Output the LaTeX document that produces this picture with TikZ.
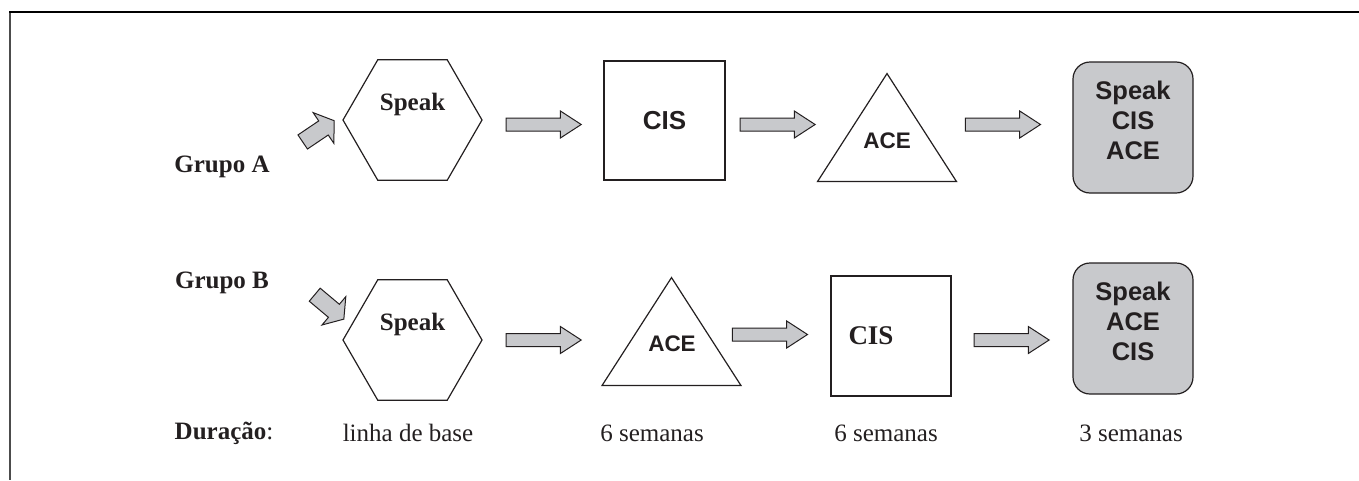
\documentclass[tikz,border=0pt]{standalone}
\usepackage{fontspec}
\setmainfont{Liberation Serif}
\setsansfont{Liberation Sans}
\usetikzlibrary{shapes.geometric,shapes.arrows,positioning}
\definecolor{boxgray}{RGB}{200,201,204}
\definecolor{inkgray}{RGB}{35,31,32}

\begin{document}
\begin{tikzpicture}[x=1pt,y=-1pt,
	every node/.style={text=inkgray,inner sep=0pt},
	hexa/.style={regular polygon,regular polygon sides=6,minimum size=139pt,draw=inkgray,line width=1.2pt},
	sqbox/.style={rectangle,draw=inkgray,line width=1.2pt,minimum width=121pt,minimum height=119pt},
	tri/.style={isosceles triangle,isosceles triangle stretches,shape border rotate=90,draw=inkgray,line width=1.2pt,minimum width=139pt,minimum height=108pt},
	endbox/.style={rectangle,rounded corners=17pt,draw=inkgray,fill=boxgray,line width=1.2pt,minimum width=120pt,minimum height=131pt},
	blockarrow/.style={single arrow,draw=inkgray,fill=boxgray,line width=1pt,minimum height=75pt,inner sep=6pt,single arrow head extend=7pt,single arrow tip angle=66},
	smallarrow/.style={single arrow,draw=inkgray,fill=boxgray,line width=1pt,minimum height=38pt,inner sep=8pt,single arrow head extend=10pt,single arrow tip angle=110},
	serifbold/.style={font=\fontsize{25}{30}\selectfont\bfseries},
	serifplain/.style={font=\fontsize{25}{30}\selectfont},
	sansbold/.style={font=\sffamily\bfseries\fontsize{26}{30}\selectfont},
	sanslist/.style={font=\sffamily\bfseries\fontsize{25.5}{30}\selectfont,align=center}]
	\newcommand{\rowA}{120}
	\newcommand{\rowB}{340}
	\newcommand{\rowDur}{433}
	
	\useasboundingbox (0,0) rectangle (1359,480);
	\draw[line width=2.5pt,black!70] (10,12) -- (10,480);		% left frame
	\draw[line width=1.8pt,black] (9,12) -- (1359,12);		% top frame
	
	% Grupo A
	\node[serifbold] (grupoA) at (222,167) {Grupo A};
	\node[smallarrow,rotate=34] (smA) at (316,133) {};
	\node[hexa,label={[serifbold,yshift=16pt]center:Speak}] (speakA) at (412.5,\rowA) {};
	\node[sqbox,sansbold] (cisA) at (664.5,120.5) {CIS};
	\node[tri,anchor=apex] (aceA) at (887,72) {};
	\node[sansbold,font=\sffamily\bfseries\fontsize{22.5}{27}\selectfont] (aceAtxt) at (887,141) {ACE};
	\node[endbox,label={[sanslist,yshift=7pt]center:Speak\\CIS\\ACE}] (allA) at (1133,127.5) {};
	\node[blockarrow,right=23pt of speakA,yshift=-4.5pt] (arrA1) {};
	\node[blockarrow,right=14pt of cisA,yshift=-4pt] (arrA2) {};
	\node[blockarrow,left=31pt of allA,yshift=3pt] (arrA3) {};
	
	% Grupo B
	\node[serifbold] (grupoB) at (222,283) {Grupo B};
	\node[smallarrow,rotate=-40] (smB) at (327,305) {};
	\node[hexa,label={[serifbold,yshift=16pt]center:Speak}] (speakB) at (412.5,\rowB) {};
	\node[tri,anchor=apex] (aceB) at (671.5,276) {};
	\node[sansbold,font=\sffamily\bfseries\fontsize{22.5}{27}\selectfont] (aceBtxt) at (672,344) {ACE};
	\node[sqbox,minimum width=120pt,minimum height=120pt,label={[serifbold,font=\fontsize{27}{30}\selectfont\bfseries,xshift=-20pt]center:CIS}] (cisB) at (891,336) {};
	\node[endbox,label={[sanslist,yshift=7pt]center:Speak\\ACE\\CIS}] (allB) at (1133,328.5) {};
	\node[blockarrow,right=23pt of speakB] (arrB1) {};
	\node[blockarrow,left=22pt of cisB,yshift=1.5pt] (arrB2) {};
	\node[blockarrow,right=22pt of cisB,yshift=-4pt] (arrB3) {};
	
	% durations
	\node[serifplain] (durLabel) at (224,\rowDur) {\textbf{Duração}:};
	\node[serifplain] (durBase) at (408,\rowDur) {linha de base};
	\node[serifplain] (durOne) at (652,\rowDur) {6 semanas};
	\node[serifplain] (durTwo) at (886,\rowDur) {6 semanas};
	\node[serifplain] (durThree) at (1131,\rowDur) {3 semanas};
\end{tikzpicture}
\end{document}
